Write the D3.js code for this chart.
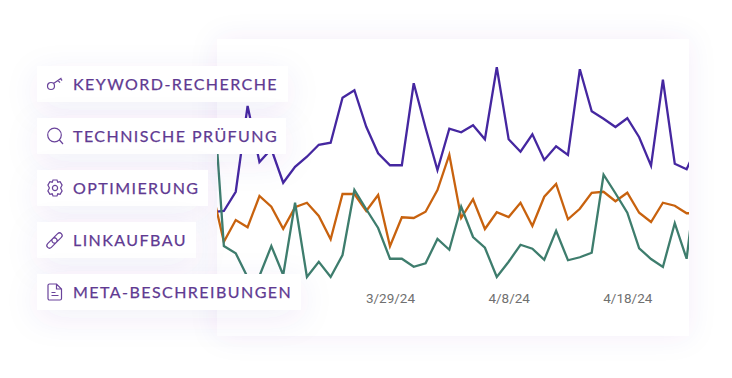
<!DOCTYPE html>
<html>
<head>
<meta charset="utf-8">
<script src="https://cdn.jsdelivr.net/npm/d3@7"></script>
<style>
  html, body { margin: 0; padding: 0; background: #fff; overflow: hidden; }
  svg { display: block; }
</style>
</head>
<body>
<div id="chart"></div>
<script>
const dates = ["3/14/24","3/15/24","3/16/24","3/17/24","3/18/24","3/19/24","3/20/24","3/21/24","3/22/24","3/23/24","3/24/24","3/25/24","3/26/24","3/27/24","3/28/24","3/29/24","3/30/24","3/31/24","4/1/24","4/2/24","4/3/24","4/4/24","4/5/24","4/6/24","4/7/24","4/8/24","4/9/24","4/10/24","4/11/24","4/12/24","4/13/24","4/14/24","4/15/24","4/16/24","4/17/24","4/18/24","4/19/24","4/20/24","4/21/24","4/22/24","4/23/24","4/24/24"];
const tickLabels = ["3/29/24", "4/8/24", "4/18/24"];

const keywordRecherche = [35.2,35.6,43.3,77.6,55.2,60.4,46.9,53.3,57.3,62.1,62.9,80.9,83.9,69.3,58.7,53.9,53.9,86.7,68.8,52,68.5,67.1,69.9,64.3,93.1,64.3,59.3,66.3,56,61.5,58,92.3,75.5,72.5,69.2,72.7,65.1,53.7,88.1,54.5,52.3,62.8];
const technischePruefung = [44,23.3,32,29.1,41.6,37.3,28.5,37.1,38.9,33.6,24.3,42.4,42.4,35.6,42,21.5,33.1,32.8,35.3,44,58.1,32.8,40.3,28.4,35.1,33.2,38.9,29.6,41.3,46.4,32.3,36.5,42.9,43.3,39.5,42.9,34.9,31.2,38.9,37.7,34.7,34.7];
const optimierung = [90,21.6,18.7,9.1,9.6,21.6,10,38.9,9.2,15.3,9.2,18,44,36.3,28.8,16.5,16.5,13.3,14.7,24.4,20.1,37.3,25.2,20.9,9.2,15.3,22.1,20.5,16.1,27.7,15.9,17.1,18.9,50.1,42.7,34.9,20.7,16.4,13.2,30.7,16.5,56];

const labels = ["KEYWORD-RECHERCHE", "TECHNISCHE PRÜFUNG", "OPTIMIERUNG", "LINKAUFBAU", "META-BESCHREIBUNGEN"];
const labelWidths = [251, 249, 171, 159, 264];
const lineColors = ["#4527a0", "#c8620e", "#3e7d6d"];

const width = 732, height = 378;
const card = { x: 217, y: 39, w: 472, h: 297 };

const svg = d3.select("#chart").append("svg")
  .attr("width", width)
  .attr("height", height);

const defs = svg.append("defs");

const shadow = defs.append("filter")
  .attr("id", "soft")
  .attr("x", "-40%").attr("y", "-120%")
  .attr("width", "180%").attr("height", "340%");
shadow.append("feDropShadow")
  .attr("dx", 0).attr("dy", 8)
  .attr("stdDeviation", 16)
  .attr("flood-color", "#5a3ea8")
  .attr("flood-opacity", 0.08);

const cardShadow = defs.append("filter")
  .attr("id", "cardSoft")
  .attr("x", "-20%").attr("y", "-20%")
  .attr("width", "140%").attr("height", "140%");
cardShadow.append("feDropShadow")
  .attr("dx", 0).attr("dy", 0)
  .attr("stdDeviation", 14)
  .attr("flood-color", "#5a3ea8")
  .attr("flood-opacity", 0.07);

defs.append("clipPath").attr("id", "cardClip")
  .append("rect")
  .attr("x", card.x).attr("y", card.y)
  .attr("width", card.w).attr("height", card.h);

svg.append("rect")
  .attr("x", card.x).attr("y", card.y)
  .attr("width", card.w).attr("height", card.h)
  .attr("fill", "#fff")
  .attr("filter", "url(#cardSoft)");

const xScale = d3.scalePoint().domain(dates).range([212, 698.5]);
const yScale = d3.scaleLinear().domain([0, 100]).range([300, 50]);

const line = d3.line()
  .x((d, i) => xScale(dates[i]))
  .y(d => yScale(d));

const plot = svg.append("g").attr("clip-path", "url(#cardClip)");

plot.selectAll("path")
  .data([keywordRecherche, technischePruefung, optimierung])
  .enter()
  .append("path")
  .attr("d", line)
  .attr("fill", "none")
  .attr("stroke", (d, i) => lineColors[i])
  .attr("stroke-width", 2.3)
  .attr("stroke-linejoin", "miter");

const xAxis = d3.axisBottom(xScale).tickValues(tickLabels).tickSize(0).tickPadding(0);
const axisG = svg.append("g")
  .attr("transform", "translate(0, 293)")
  .call(xAxis);
axisG.select(".domain").remove();
axisG.selectAll("text")
  .attr("fill", "#707070")
  .style("font-family", "Roboto")
  .style("font-size", "13.5px");

// icons are drawn around the middle of their pill
const iconPaths = [
  "M-.5 2a3.500 3.500 0 1 1-7 0a3.500 3.500 0 1 1 7 0M-1.500-.5L6.500-6M3-3.500l2 2.200M5.500-5.300l1.600 1.800",
  "M6.300-1a6.800 6.800 0 1 1-13.600 0a6.800 6.800 0 1 1 13.600 0M4.500 4L8 8",
  "M-2-8h4l.8 2.200 2.300-.5 2 3.400-1.500 2.900 1.500 2.900-2 3.400-2.300-.5-.8 2.200h-4l-.8-2.200-2.300.5-2-3.400 1.500-2.900-1.500-2.900 2-3.400 2.300.5zM2.600 0a2.600 2.600 0 1 1-5.200 0a2.600 2.600 0 1 1 5.200 0",
  "M-7.340 3.660L-2.340-1.340A2.600 2.600 0 0 1 1.340 2.340L-3.660 7.340A2.600 2.600 0 0 1-7.340 3.660ZM2.660-6.340A2.600 2.600 0 0 1 6.340-2.660L1.340 2.340A2.600 2.600 0 0 1-2.340-1.340Z",
  "M-5.500-8h7l5 5v9.500a1.500 1.500 0 0 1-1.500 1.500h-10.500a1.500 1.500 0 0 1-1.500-1.500v-13a1.500 1.500 0 0 1 1.500-1.500zM1.500-8v5h5M-3.500.5h4M-3.500 3.500h7"
];

const pills = svg.append("g");
const pillY = d3.scaleBand().domain(labels).range([66, 310]).paddingInner(16 / 52).paddingOuter(0);

pills.selectAll("rect")
  .data(labels)
  .enter()
  .append("rect")
  .attr("x", 37)
  .attr("y", d => pillY(d))
  .attr("width", (d, i) => labelWidths[i])
  .attr("height", pillY.bandwidth())
  .attr("fill", "#fff")
  .attr("filter", "url(#soft)");

pills.selectAll("path")
  .data(iconPaths)
  .enter()
  .append("path")
  .attr("d", d => d)
  .attr("transform", (d, i) => `translate(55, ${pillY(labels[i]) + pillY.bandwidth() / 2})`)
  .attr("fill", "none")
  .attr("stroke", "#6a439b")
  .attr("stroke-width", 1.2);

pills.selectAll("text")
  .data(labels)
  .enter()
  .append("text")
  .text(d => d)
  .attr("x", 73)
  .attr("y", d => pillY(d) + 24)
  .attr("fill", "#5f3a92")
  .attr("stroke", "#5f3a92")
  .attr("stroke-width", 0.25)
  .style("font-family", "Lato")
  .style("font-size", "16px")
  .style("letter-spacing", "1.45px");
</script>
</body>
</html>
